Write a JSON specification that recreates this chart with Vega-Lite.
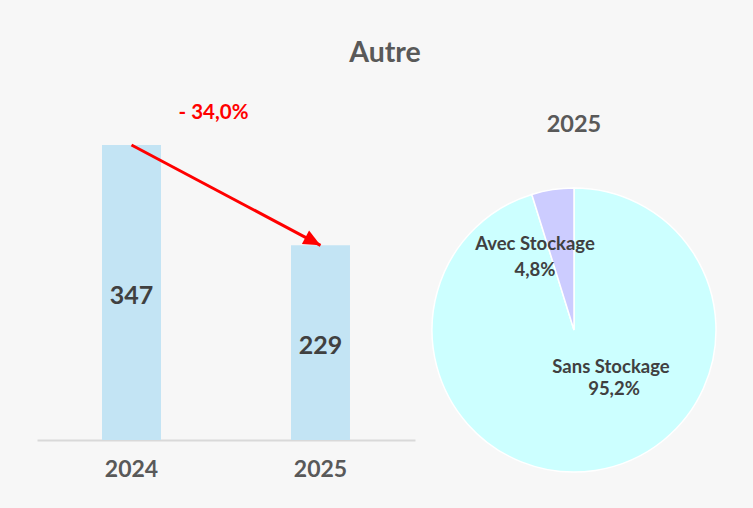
{
  "$schema": "https://vega.github.io/schema/vega-lite/v6.json",
  "background": "#f7f7f7",
  "padding": {"left": 37, "top": 38, "right": 20, "bottom": 0},
  "bounds": "flush",
  "spacing": 0,
  "title": {"text": "Autre", "fontSize": 28.5, "font": "Lato", "fontWeight": "bold", "color": "#595959", "anchor": "middle", "offset": 36},
  "config": {
    "view": {"stroke": null},
    "font": "Lato",
    "locale": {"number": {"decimal": ",", "thousands": " ", "grouping": [3], "currency": ["", " €"]}}
  },
  "datasets": {
    "volumes": [{"year": "2024", "value": 347}, {"year": "2025", "value": 229}],
    "change": [{"from": "2024", "to": "2025", "label": "- 34,0%"}],
    "split": [{"segment": "Sans Stockage", "share": 0.952}, {"segment": "Avec Stockage", "share": 0.048}]
  },
  "hconcat": [
    {
      "width": 378,
      "height": 300,
      "data": {"name": "volumes"},
      "resolve": {"scale": {"y": "independent"}},
      "layer": [
        {
          "layer": [
            {
              "mark": {"type": "bar", "color": "#c3e4f4"},
              "encoding": {
                "x": {
                  "field": "year", "type": "ordinal",
                  "scale": {"paddingInner": 0.688, "paddingOuter": 0.344},
                  "axis": {"title": null, "labelAngle": 0, "ticks": false, "domainColor": "#d9d9d9", "domainWidth": 2, "labelFont": "Lato", "labelFontSize": 23, "labelFontWeight": "bold", "labelColor": "#595959", "labelPadding": 18}
                },
                "y": {"field": "value", "type": "quantitative", "scale": {"domain": [0, 352.9], "nice": false, "zero": true}, "axis": null}
              }
            },
            {
              "mark": {"type": "line", "color": "#ff0000", "strokeWidth": 3},
              "encoding": {
                "x": {"field": "year", "type": "ordinal"},
                "y": {"field": "value", "type": "quantitative"}
              }
            },
            {
              "transform": [{"filter": "datum.year === '2025'"}],
              "mark": {"type": "point", "shape": "M0,0L-1,-0.45L-1,0.45Z", "size": 1156, "filled": true, "color": "#ff0000", "opacity": 1, "angle": 28},
              "encoding": {
                "x": {"field": "year", "type": "ordinal"},
                "y": {"field": "value", "type": "quantitative"}
              }
            },
            {
              "data": {"name": "change"},
              "mark": {"type": "text", "dx": 82, "dy": -32, "font": "Lato", "fontSize": 20.5, "fontWeight": "bold", "color": "#ff0000", "align": "center", "baseline": "middle"},
              "encoding": {
                "x": {"field": "from", "type": "ordinal"},
                "y": {"datum": 347, "type": "quantitative"},
                "text": {"field": "label"}
              }
            }
          ]
        },
        {
          "mark": {"type": "text", "font": "Lato", "fontSize": 25, "fontWeight": "bold", "color": "#404040", "baseline": "middle", "dy": 3},
          "encoding": {
            "x": {"field": "year", "type": "ordinal"},
            "y": {"field": "value", "type": "quantitative", "scale": {"domain": [0, 705.8], "nice": false}, "axis": null},
            "text": {"field": "value", "type": "quantitative"}
          }
        }
      ]
    },
    {
      "width": 318,
      "height": 380,
      "title": {"text": "2025", "fontSize": 23.5, "font": "Lato", "fontWeight": "bold", "color": "#595959", "offset": 4},
      "data": {"name": "split"},
      "layer": [
        {
          "mark": {"type": "arc", "outerRadius": 142, "stroke": "#ffffff", "strokeWidth": 1.5},
          "encoding": {
            "theta": {"field": "share", "type": "quantitative", "stack": true},
            "order": {"field": "share", "sort": "descending"},
            "color": {"field": "segment", "type": "nominal", "scale": {"domain": ["Sans Stockage", "Avec Stockage"], "range": ["#ccffff", "#ccccff"]}, "legend": null}
          }
        },
        {
          "transform": [{"filter": "datum.segment === 'Avec Stockage'"}],
          "mark": {"type": "text", "font": "Lato", "fontSize": 18.5, "fontWeight": "bold", "color": "#404040", "dx": -39, "dy": -86, "baseline": "middle"},
          "encoding": {"text": {"field": "segment"}}
        },
        {
          "transform": [{"filter": "datum.segment === 'Avec Stockage'"}],
          "mark": {"type": "text", "font": "Lato", "fontSize": 18.5, "fontWeight": "bold", "color": "#404040", "dx": -39, "dy": -60, "baseline": "middle"},
          "encoding": {"text": {"field": "share", "type": "quantitative", "format": ".1%"}}
        },
        {
          "transform": [{"filter": "datum.segment === 'Sans Stockage'"}],
          "mark": {"type": "text", "font": "Lato", "fontSize": 18.5, "fontWeight": "bold", "color": "#404040", "dx": 37, "dy": 37, "baseline": "middle"},
          "encoding": {"text": {"field": "segment"}}
        },
        {
          "transform": [{"filter": "datum.segment === 'Sans Stockage'"}],
          "mark": {"type": "text", "font": "Lato", "fontSize": 18.5, "fontWeight": "bold", "color": "#404040", "dx": 40, "dy": 59, "baseline": "middle"},
          "encoding": {"text": {"field": "share", "type": "quantitative", "format": ".1%"}}
        }
      ]
    }
  ]
}
